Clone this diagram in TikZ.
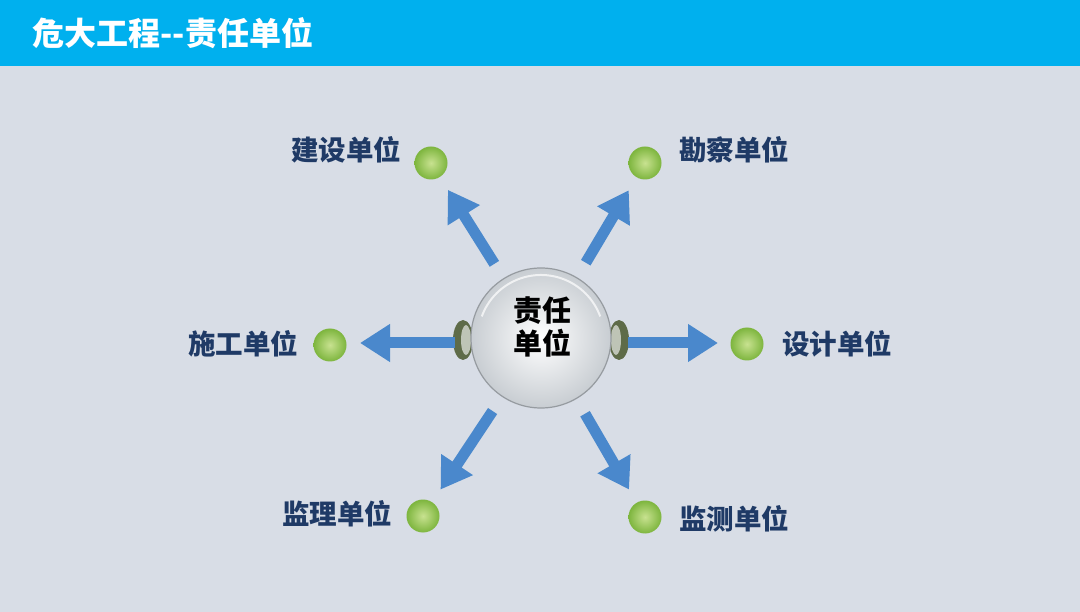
\documentclass[tikz,border=0pt]{standalone}
\usepackage{fontspec}
\newfontfamily\cjk{Noto Sans CJK SC}
\usetikzlibrary{arrows.meta}
\definecolor{bg}{HTML}{D8DDE6}
\definecolor{bar}{HTML}{00B0EE}
\definecolor{arr}{HTML}{4A88CC}
\definecolor{navy}{HTML}{1F3A66}
\definecolor{gin}{HTML}{C8E290}
\definecolor{gout}{HTML}{7DB53E}
\definecolor{ear}{HTML}{5E6B48}
\definecolor{earin}{HTML}{BEC4B6}
\definecolor{rim}{HTML}{969BA0}
\definecolor{ballout}{HTML}{C8CDD2}
\tikzset{
  dot/.style={circle,minimum size=33pt,inner sep=0pt,inner color=gin,outer color=gout},
  lab/.style={font=\cjk\fontsize{27.5}{27.5}\selectfont\bfseries,text=navy},
  conn/.style={draw=arr,line width=11pt,-{Triangle[width=36pt,length=30pt]},shorten <=17pt,shorten >=15pt},
}
\begin{document}
\begin{tikzpicture}[x=1pt,y=-1pt]
\fill[bg] (0,0) rectangle (1080,612);
\useasboundingbox (0,0) rectangle (1080,612);
\fill[bar] (0,0) rectangle (1080,66);
\node[anchor=west,text=white,font=\cjk\fontsize{32}{32}\selectfont\bfseries] (title) at (29,33) {危大工程--责任单位};
% ears
\fill[ear] (463,340) ellipse (10 and 20);
\fill[ear] (619,340) ellipse (10 and 20);
\fill[earin] (466,340) ellipse (5 and 15);
\fill[earin] (616,340) ellipse (5 and 15);
% center ball
\node[circle,minimum size=140pt,inner sep=0pt,draw=rim,line width=1.2pt,
  inner color=white,outer color=ballout] (c) at (541,338) {};
\draw[white,line width=2pt,opacity=0.7] (541,338) ++(200:63) arc (200:340:63);
\node[font=\cjk\fontsize{29}{33}\selectfont\bfseries,align=center] (ct) at (542,327) {责任\\单位};
% dots
\node[dot] (d1) at (431,163) {};
\node[dot] (d2) at (645,163) {};
\node[dot] (d3) at (747,344) {};
\node[dot] (d4) at (330,345) {};
\node[dot] (d5) at (423,516) {};
\node[dot] (d6) at (645,517) {};
% labels
\node[lab] (l1) at (346,150) {建设单位};
\node[lab] (l2) at (734,150) {勘察单位};
\node[lab] (l3) at (837,344) {设计单位};
\node[lab] (l4) at (243,344) {施工单位};
\node[lab] (l5) at (337,514) {监理单位};
\node[lab] (l6) at (734,519) {监测单位};
% arrows
\coordinate (t3) at (747,343);
\coordinate (t4) at (330,343);
\coordinate (s3) at (541,343);
\draw[conn] (c) -- (d1);
\draw[conn] (c) -- (d2);
\draw[conn,shorten <=87pt,shorten >=29pt] (s3) -- (t3);
\draw[conn,shorten <=86pt,shorten >=30pt] (s3) -- (t4);
\draw[conn] (c) -- (d5);
\draw[conn] (c) -- (d6);
\end{tikzpicture}
\end{document}
